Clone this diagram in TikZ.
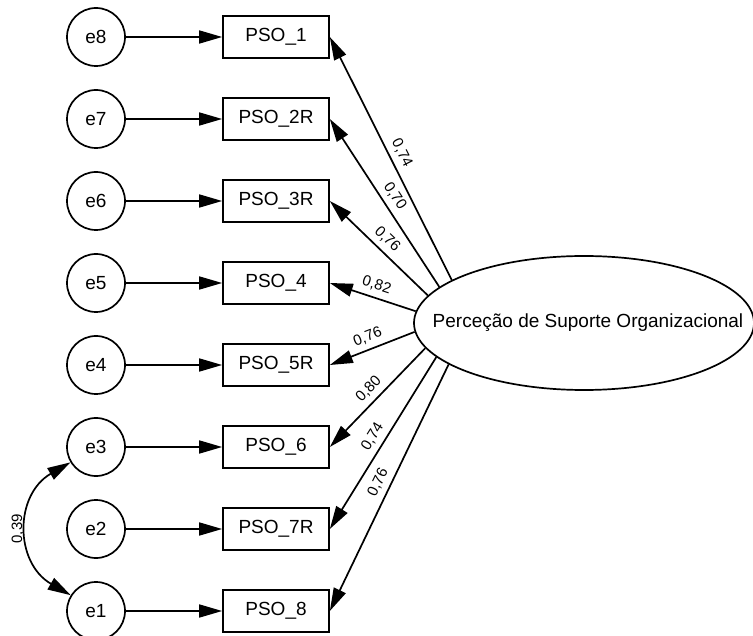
\documentclass[tikz,border=0pt]{standalone}
\usepackage{fontspec}
\setmainfont{Liberation Sans}
\usetikzlibrary{arrows.meta,shapes.geometric}
\begin{document}
\begin{tikzpicture}[x=1pt,y=-1pt,
  every node/.style={font=\fontsize{19}{22}\selectfont},
  errvar/.style={draw, circle, line width=1.7pt, minimum size=58pt, inner sep=0pt},
  indicator/.style={draw, rectangle, line width=1.7pt, minimum width=106pt, minimum height=42pt, inner sep=0pt},
  factor/.style={draw, ellipse, line width=1.7pt, minimum width=340pt, minimum height=134pt, inner sep=0pt},
  link/.style={line width=1.7pt, -{Triangle[length=23pt,width=13pt]}},
  covlink/.style={line width=1.7pt, {Triangle[length=23pt,width=13pt]}-{Triangle[length=23pt,width=13pt]}},
  coeffont/.style={font=\fontsize{15}{18}\selectfont},
  coef/.style={coeffont, sloped, above=2pt, midway},
]
% canvas
\fill[white] (0,0) rectangle (753,636);
\useasboundingbox (0,0) rectangle (753,636);

% error terms
\node[errvar] (e8) at (96,37)  {e8};
\node[errvar] (e7) at (96,119) {e7};
\node[errvar] (e6) at (96,201) {e6};
\node[errvar] (e5) at (96,283) {e5};
\node[errvar] (e4) at (96,365) {e4};
\node[errvar] (e3) at (96,447) {e3};
\node[errvar] (e2) at (96,529) {e2};
\node[errvar] (e1) at (96,611) {e1};

% observed items
\node[indicator] (p1) at (276,37)  {PSO\_1};
\node[indicator] (p2) at (276,119) {PSO\_2R};
\node[indicator] (p3) at (276,201) {PSO\_3R};
\node[indicator] (p4) at (276,283) {PSO\_4};
\node[indicator] (p5) at (276,365) {PSO\_5R};
\node[indicator] (p6) at (276,447) {PSO\_6};
\node[indicator] (p7) at (276,529) {PSO\_7R};
\node[indicator] (p8) at (276,611) {PSO\_8};

% latent factor
\node[factor] (lat) at (584,323) {};
\node (latname) at (588,323) {Perceção de Suporte Organizacional};

% residual paths
\draw[link] (e8) -- (p1);
\draw[link] (e7) -- (p2);
\draw[link] (e6) -- (p3);
\draw[link] (e5) -- (p4);
\draw[link] (e4) -- (p5);
\draw[link] (e3) -- (p6);
\draw[link] (e2) -- (p7);
\draw[link] (e1) -- (p8);

% factor loadings
\draw[link] (lat.162.9) -- node[coef] {0,74} (p1.east);
\draw[link] (lat.166.2) -- node[coef] {0,70} (p2.east);
\draw[link] (lat.170.7) -- node[coef] {0,76} (p3.east);
\draw[link] (lat.176.3) -- node[coef] {0,82} (p4.east);
\draw[link] (lat.183.7) -- node[coef] {0,76} (p5.east);
\draw[link] (lat.189.3) -- node[coef] {0,80} (p6.east);
\draw[link] (lat.193.8) -- node[coef] {0,74} (p7.east);
\draw[link] (lat.197.1) -- node[coef] {0,76} (p8.east);

% residual covariance
\draw[covlink] (e3.211) to[out=210,in=150,looseness=1.25]
  node[midway, rotate=90, anchor=south, coeffont] {0,39} (e1.148);
\end{tikzpicture}
\end{document}
